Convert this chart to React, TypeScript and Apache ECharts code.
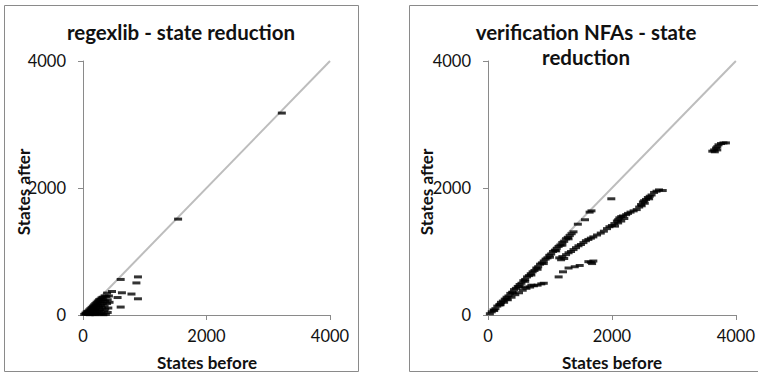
import React, { useEffect, useRef } from "react";
import * as echarts from "echarts";

const axisTickValues = [0, 2000, 4000];
const diagonal = [
  [0, 0],
  [4000, 4000],
];

const titles = ["regexlib - state reduction", "verification NFAs - state\nreduction"];
const xAxisTitle = "States before";
const yAxisTitle = "States after";

const regexlibPoints = [
  [3220, 3180], [1540, 1510], [610, 560], [890, 600], [865, 505], [470, 370],
  [630, 350], [785, 330], [890, 255], [560, 275], [610, 125], [390, 345],
  [20, 10], [40, 30], [50, 20], [60, 50], [70, 10], [80, 60], [90, 40], [100, 80],
  [100, 20], [110, 5], [120, 100], [120, 60], [130, 30], [140, 120], [140, 80],
  [150, 10], [160, 140], [160, 100], [170, 50], [180, 160], [180, 120], [190, 80],
  [200, 180], [200, 30], [210, 140], [220, 200], [220, 100], [230, 60], [240, 220],
  [240, 160], [250, 10], [260, 240], [260, 120], [270, 190], [280, 250], [280, 80],
  [290, 150], [300, 270], [300, 210], [300, 30], [310, 110], [320, 280], [320, 180],
  [330, 240], [340, 60], [350, 300], [350, 140], [360, 220], [370, 10], [380, 290],
  [390, 180], [400, 240], [410, 110], [420, 300], [330, 5], [280, 20], [200, 5],
  [400, 40], [360, 90], [260, 60], [430, 200],
];

const verificationPoints = [
  // upper band near the diagonal
  [30, 20], [60, 50], [90, 80], [120, 100], [150, 140], [180, 160], [210, 200],
  [240, 220], [270, 250], [300, 280], [330, 300], [360, 340], [390, 360], [420, 400],
  [450, 420], [480, 450], [510, 480], [540, 500], [570, 540], [600, 560], [630, 600],
  [660, 620], [690, 650], [720, 680], [750, 700], [780, 740], [810, 760], [840, 800],
  [870, 820], [900, 850], [930, 880], [960, 900], [990, 940], [1020, 960], [1050, 1000],
  [1080, 1020], [1110, 1050], [1140, 1080], [1170, 1100], [1200, 1140], [1230, 1160],
  [1260, 1200], [1290, 1220], [1320, 1250], [1350, 1280], [1380, 1310], [1450, 1430],
  [1565, 1500], [1670, 1640], [1640, 1620],
  [100, 70], [200, 170], [300, 250], [400, 350], [500, 440], [600, 530], [700, 630],
  [800, 720], [900, 810], [1000, 910], [1100, 1010], [1200, 1100], [1300, 1200],
  // lower band near origin
  [200, 160], [260, 200], [320, 240], [380, 280], [440, 320], [500, 350], [560, 390],
  [620, 420], [680, 440], [740, 460], [800, 470], [860, 490], [900, 500], [600, 440],
  [700, 470],
  // middle band
  [1150, 900], [1180, 870], [1200, 920], [1230, 890], [1260, 950], [1300, 980],
  [1340, 1000], [1380, 1030], [1420, 1060], [1460, 1090], [1500, 1110], [1540, 1140],
  [1580, 1170], [1620, 1190], [1660, 1210], [1700, 1230], [1760, 1260], [1820, 1290],
  [1870, 1320], [1920, 1360], [1960, 1390], [2000, 1410], [2040, 1440], [2080, 1480],
  [2100, 1500], [2120, 1530], [2150, 1550], [2180, 1560], [2200, 1520], [2230, 1580],
  [2260, 1600], [2300, 1620], [2350, 1640], [2400, 1660], [2440, 1700], [2470, 1740],
  [2500, 1780], [2520, 1800], [2550, 1820], [2580, 1850], [2610, 1870], [2640, 1890],
  [2680, 1930], [2720, 1950], [2760, 1970], [2820, 1960], [2100, 1450], [2150, 1480],
  [2050, 1400], [2480, 1720], [2530, 1760], [2600, 1830],
  // lower scattered dashes
  [1140, 600], [1210, 680], [1300, 740], [1400, 760], [1480, 780], [1620, 840],
  [1660, 830], [1700, 850], [1680, 810],
  // isolated
  [1990, 1830],
  // top-right cluster
  [3620, 2580], [3650, 2600], [3680, 2630], [3700, 2650], [3660, 2570], [3720, 2680],
  [3760, 2700], [3800, 2710], [3840, 2710], [3700, 2600],
];

const FONT = "Lato, 'Open Sans', sans-serif";
const AXIS_COLOR = "#8a8a8a";
const TEXT_COLOR = "#111111";

function axis(gridIndex: number, isY: boolean) {
  return {
    type: "value" as const,
    gridIndex,
    min: axisTickValues[0],
    max: axisTickValues[axisTickValues.length - 1],
    interval: axisTickValues[1] - axisTickValues[0],
    axisLine: { show: true, onZero: false, lineStyle: { color: AXIS_COLOR, width: 1 } },
    axisTick: { show: true, length: 5, lineStyle: { color: AXIS_COLOR, width: 1 } },
    splitLine: { show: false },
    axisLabel: {
      fontFamily: FONT,
      fontSize: 16.5,
      color: TEXT_COLOR,
      margin: isY ? 17 : 12,
      formatter: (v: number) => String(v),
    },
  };
}

function textEl(text: string, x: number, y: number, size: number, rotated = false, lineHeight?: number) {
  return {
    type: "text",
    x,
    y,
    rotation: rotated ? Math.PI / 2 : 0,
    style: {
      text,
      fontFamily: FONT,
      fontWeight: "bold",
      fontSize: size,
      lineHeight: lineHeight,
      fill: TEXT_COLOR,
      align: "center",
      verticalAlign: "middle",
    },
  };
}

export default function App() {
  const ref = useRef<HTMLDivElement>(null);
  useEffect(() => {
    document.body.style.margin = "0";
    if (!ref.current) return;
    const chart = echarts.init(ref.current, undefined, { renderer: "svg" });
    const grids = [
      { left: 83, top: 61, width: 247, height: 254 },
      { left: 488, top: 61, width: 248, height: 254 },
    ];
    const option: any = {
      animation: false,
      backgroundColor: "#ffffff",
      grid: grids,
      xAxis: [axis(0, false), axis(1, false)],
      yAxis: [axis(0, true), axis(1, true)],
      series: [
        {
          type: "line",
          xAxisIndex: 0,
          yAxisIndex: 0,
          data: diagonal,
          symbol: "none",
          lineStyle: { color: "#bdbdbd", width: 2 },
          z: 1,
        },
        {
          type: "line",
          xAxisIndex: 1,
          yAxisIndex: 1,
          data: diagonal,
          symbol: "none",
          lineStyle: { color: "#bdbdbd", width: 2 },
          z: 1,
        },
        {
          type: "scatter",
          xAxisIndex: 0,
          yAxisIndex: 0,
          data: regexlibPoints,
          symbol: "rect",
          symbolSize: [8, 3],
          itemStyle: { color: "#000000" },
          z: 3,
        },
        {
          type: "scatter",
          xAxisIndex: 1,
          yAxisIndex: 1,
          data: verificationPoints,
          symbol: "rect",
          symbolSize: [8, 3],
          itemStyle: { color: "#000000" },
          z: 3,
        },
      ],
      graphic: [
        {
          type: "rect",
          shape: { x: 4.5, y: 5.5, width: 354, height: 366 },
          style: { fill: "none", stroke: AXIS_COLOR, lineWidth: 1 },
          z: 0,
        },
        {
          type: "rect",
          shape: { x: 409.5, y: 5.5, width: 360, height: 366 },
          style: { fill: "none", stroke: AXIS_COLOR, lineWidth: 1 },
          z: 0,
        },
        textEl(titles[0], 181, 32, 20.5),
        textEl(titles[1], 586, 44, 20.5, false, 25),
        textEl(xAxisTitle, 207, 362, 17),
        textEl(xAxisTitle, 612, 362, 17),
        textEl(yAxisTitle, 23, 192, 17, true),
        textEl(yAxisTitle, 426, 192, 17, true),
      ],
    };
    chart.setOption(option);
    return () => chart.dispose();
  }, []);
  return <div ref={ref} style={{ width: 758, height: 374 }} />;
}
